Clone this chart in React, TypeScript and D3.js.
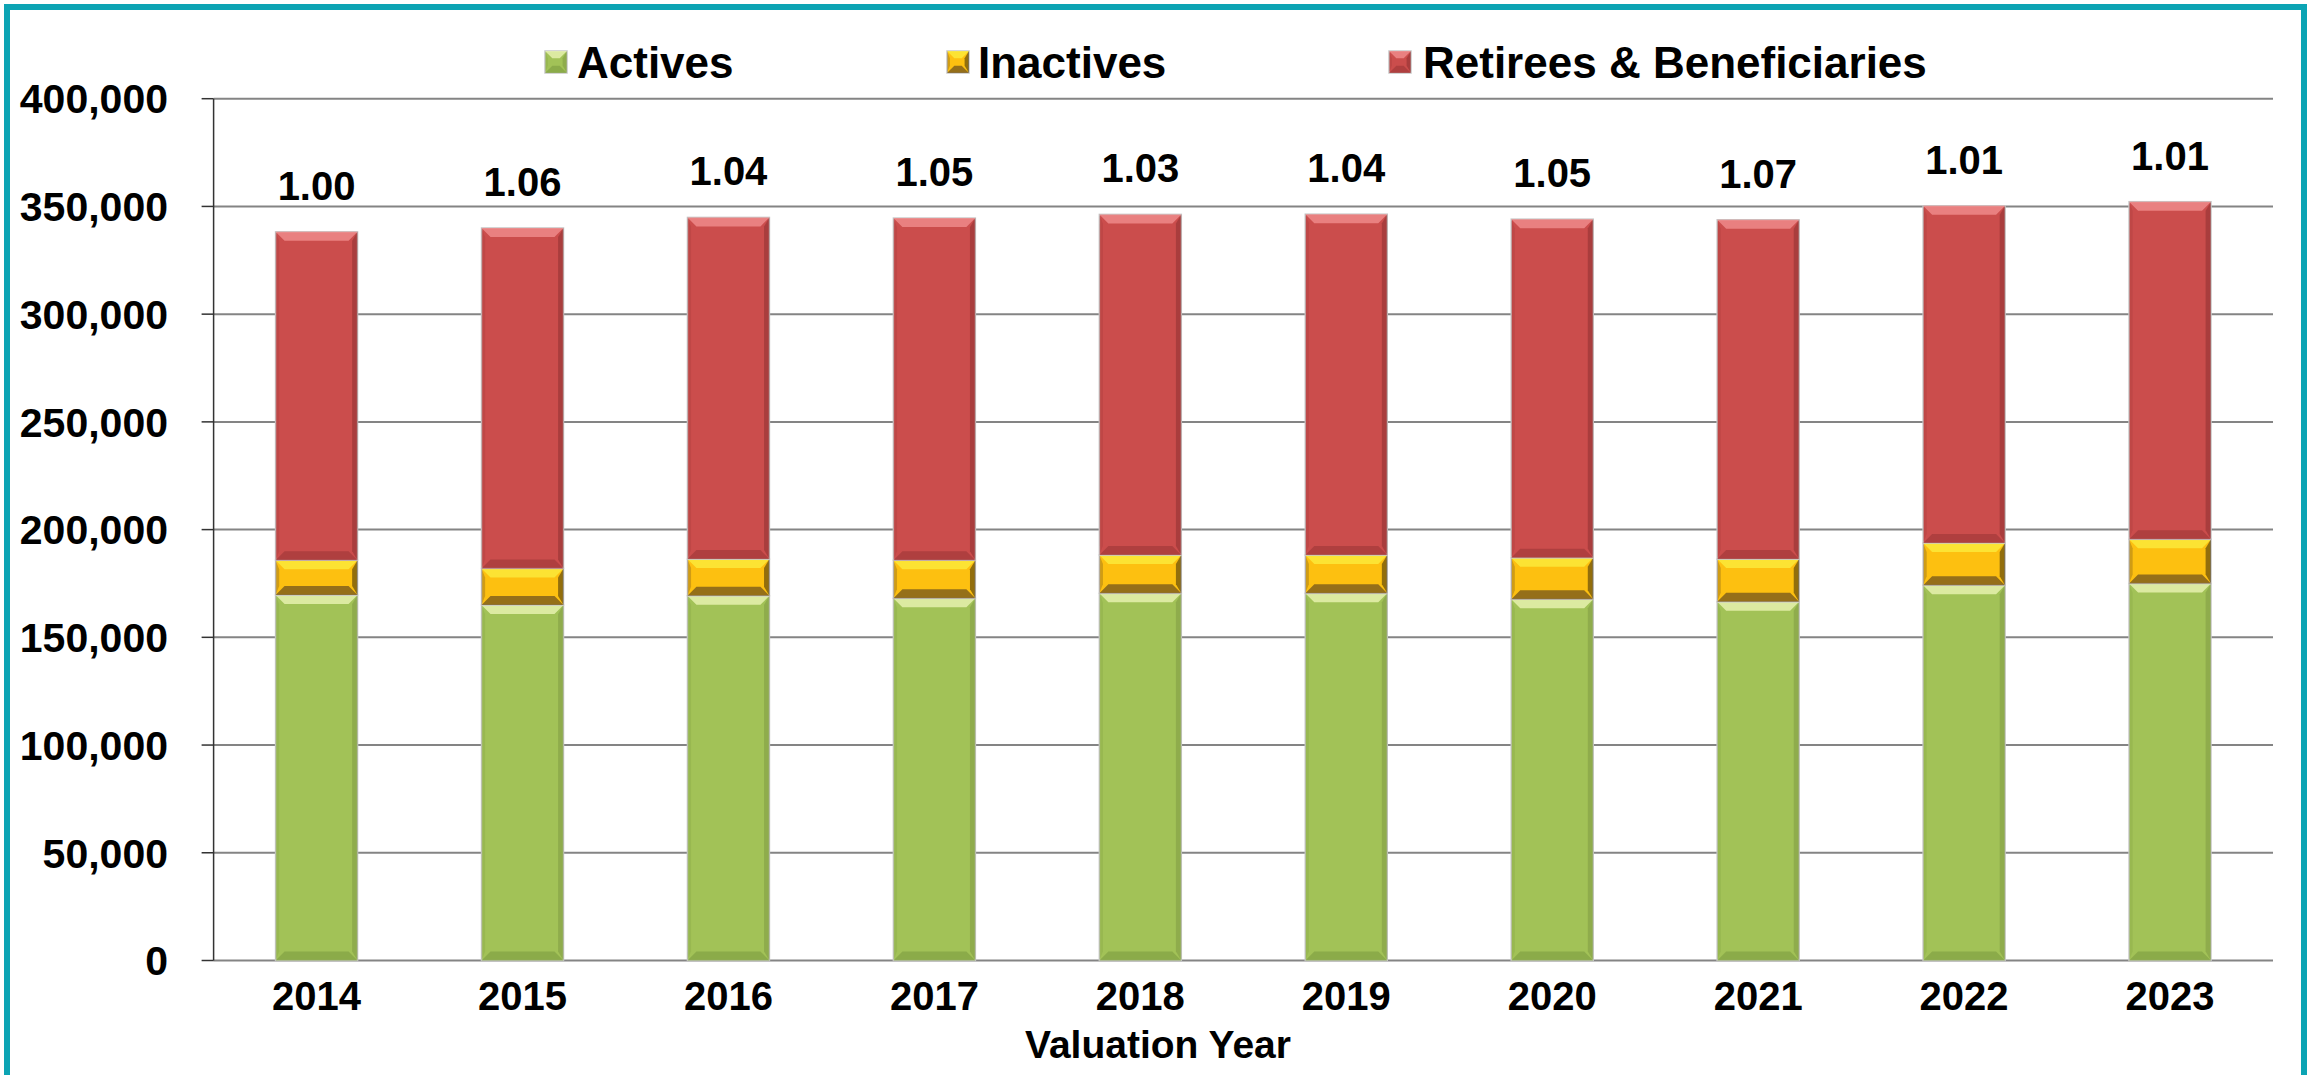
import React from 'react';
import * as d3 from 'd3';

const years = ['2014', '2015', '2016', '2017', '2018', '2019', '2020', '2021', '2022', '2023'];
const actives = [169600, 165000, 169300, 168100, 170400, 170400, 167700, 166500, 174200, 175000];
const inactives = [16200, 17000, 17000, 17700, 17800, 17800, 19200, 19800, 19600, 20500];
const retirees = [152400, 158000, 158600, 158800, 158100, 158200, 157200, 157500, 156500, 156700];
const ratios = ['1.00', '1.06', '1.04', '1.05', '1.03', '1.04', '1.05', '1.07', '1.01', '1.01'];
const yTicks = [0, 50000, 100000, 150000, 200000, 250000, 300000, 350000, 400000];

interface SeriesStyle {
  name: string;
  values: number[];
  base: string;
  light: string;
  dark: string;
  side: string;
}

const series: SeriesStyle[] = [
  { name: 'Actives', values: actives, base: '#A2C257', light: '#E6F1AE', dark: '#86A546', side: '#7F9B43' },
  { name: 'Inactives', values: inactives, base: '#FDC010', light: '#FCE93A', dark: '#7A5A1C', side: '#3A2A0A' },
  { name: 'Retirees & Beneficiaries', values: retirees, base: '#CB4D4C', light: '#EE8A89', dark: '#A83C3C', side: '#8E3232' },
];

const W = 2310;
const H = 1075;
const left = 213.6;
const right = 2273;
const top = 98.7;
const bottom = 960.5;
const FONT = '"Liberation Sans", Arial, sans-serif';

// bevelled block like the Excel "cool slant" bars
const Bevel: React.FC<{ x: number; y: number; w: number; h: number; s: SeriesStyle }> = ({ x, y, w, h, s }) => {
  const b = Math.min(9, h / 3, w / 3);
  const pts = (arr: number[][]) => arr.map(p => p.join(',')).join(' ');
  return (
    <g>
      <rect x={x} y={y} width={w} height={h} fill={s.base} stroke="#c8c8c8" strokeWidth={1.5} />
      <polygon points={pts([[x, y], [x + w, y], [x + w - b, y + b], [x + b, y + b]])} fill={s.light} opacity={0.85} />
      <polygon points={pts([[x, y + h], [x + w, y + h], [x + w - b, y + h - b], [x + b, y + h - b]])} fill={s.dark} opacity={0.8} />
      <polygon points={pts([[x + w, y], [x + w - b * 0.6, y + b], [x + w - b * 0.6, y + h - b], [x + w, y + h]])} fill={s.side} opacity={0.55} />
      <polygon points={pts([[x, y], [x + b * 0.4, y + b], [x + b * 0.4, y + h - b], [x, y + h]])} fill={s.dark} opacity={0.35} />
    </g>
  );
};

const App: React.FC = () => {
  const x = d3.scaleBand<string>().domain(years).range([left, right]).paddingInner(0.602).paddingOuter(0.301);
  const y = d3.scaleLinear().domain([0, 400000]).range([bottom, top]);
  const fmt = d3.format(',');

  const stacked = d3.stack<number>()
    .keys(series.map((_, i) => String(i)))
    .value((d, k) => series[+k].values[d])(years.map((_, i) => i));

  const totals = years.map((_, i) => actives[i] + inactives[i] + retirees[i]);

  const legend = [
    { s: series[0], mx: 545, tx: 577 },
    { s: series[1], mx: 947, tx: 978 },
    { s: series[2], mx: 1389, tx: 1423 },
  ];

  return (
    <svg width={W} height={H} style={{ position: 'absolute', left: 0, top: 0, display: 'block', background: '#fff' }}>
      <rect x={0} y={0} width={W} height={H} fill="#fff" />
      <rect x={7} y={7} width={2297} height={1073} fill="none" stroke="#0CA4B4" strokeWidth={6} />

      {/* gridlines */}
      {yTicks.map(t => (
        <g key={t}>
          <line x1={left} x2={right} y1={y(t)} y2={y(t)} stroke="#848484" strokeWidth={2} />
          <line x1={left - 12} x2={left} y1={y(t)} y2={y(t)} stroke="#333" strokeWidth={1.5} />
          <text x={168} y={y(t)} dy="0.36em" textAnchor="end" fontFamily={FONT} fontWeight="bold" fontSize={41} fill="#000">
            {fmt(t)}
          </text>
        </g>
      ))}
      <line x1={left} x2={left} y1={top} y2={bottom} stroke="#333" strokeWidth={1.5} />

      {/* bars */}
      {stacked.map((layer, li) => (
        <g key={li}>
          {layer.map((d, i) => (
            <Bevel key={i} x={x(years[i])!} y={y(d[1])} w={x.bandwidth()} h={y(d[0]) - y(d[1])} s={series[li]} />
          ))}
        </g>
      ))}

      {/* ratio labels */}
      {ratios.map((r, i) => (
        <text key={r + i} x={x(years[i])! + x.bandwidth() / 2} y={y(totals[i]) - 32} textAnchor="middle"
          fontFamily={FONT} fontWeight="bold" fontSize={40} fill="#000">
          {r}
        </text>
      ))}

      {/* x labels */}
      {years.map(yr => (
        <text key={yr} x={x(yr)! + x.bandwidth() / 2} y={1010} textAnchor="middle" fontFamily={FONT} fontWeight="bold" fontSize={40} fill="#000">
          {yr}
        </text>
      ))}
      <text x={1158} y={1058} textAnchor="middle" fontFamily={FONT} fontWeight="bold" fontSize={39} fill="#000">
        Valuation Year
      </text>

      {/* legend */}
      {legend.map(l => (
        <g key={l.s.name}>
          <Bevel x={l.mx} y={51} w={22} h={22} s={l.s} />
          <text x={l.tx} y={78} fontFamily={FONT} fontWeight="bold" fontSize={44} fill="#000">
            {l.s.name}
          </text>
        </g>
      ))}
    </svg>
  );
};

export default App;
